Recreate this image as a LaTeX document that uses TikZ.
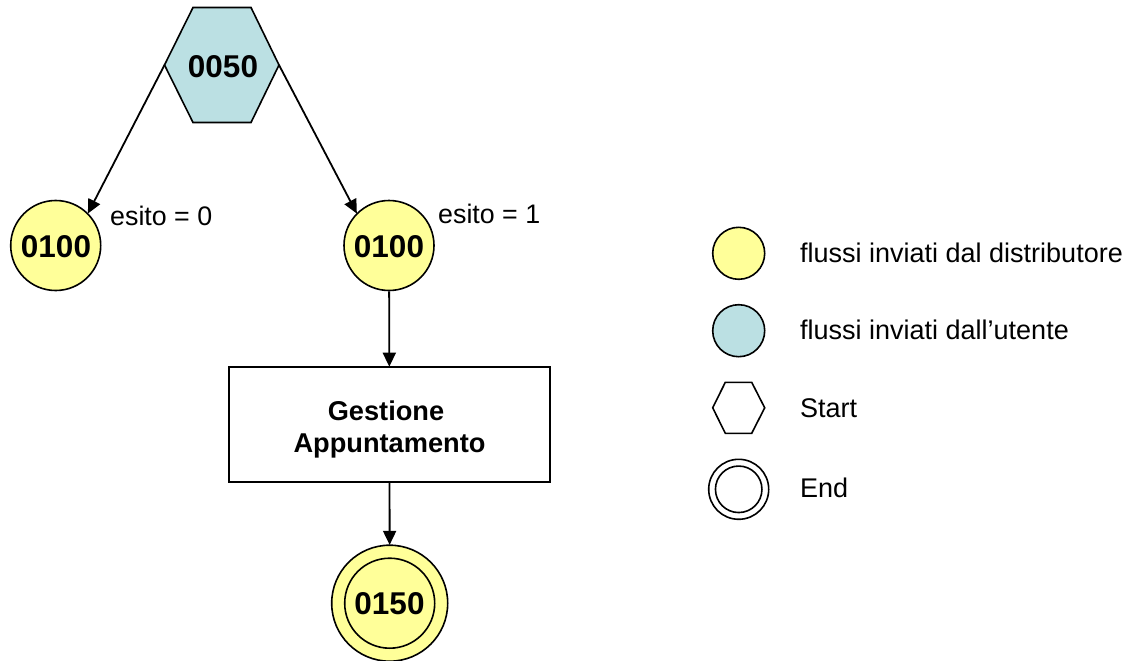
\documentclass[tikz,border=0pt]{standalone}
\usepackage{fontspec}
\setmainfont{Liberation Sans}
\usetikzlibrary{arrows.meta}
\definecolor{yel}{HTML}{FFFF99}
\definecolor{blu}{HTML}{BBE0E3}
\tikzset{
  outl/.style={draw=black,line width=1.6pt},
  yc/.style={outl,circle,fill=yel,inner sep=0pt,minimum size=90pt},
  num/.style={inner sep=0pt,font=\fontsize{31.5}{31.5}\selectfont\bfseries},
  legc/.style={outl,circle,inner sep=0pt,minimum size=52pt},
  conn/.style={line width=1.8pt,-{Triangle[length=14pt,width=13pt]},shorten >=-0.5pt},
  lab/.style={inner sep=0pt,anchor=base west,font=\fontsize{26.8}{26.8}\selectfont},
  leg/.style={inner sep=0pt,anchor=base west,font=\fontsize{27}{27}\selectfont},
}
\begin{document}
\begin{tikzpicture}[x=1pt,y=-1pt]
\useasboundingbox (0,0) rectangle (1127,661);
% start hexagon
\coordinate (hl) at (164.5,65);
\coordinate (hr) at (279,65);
\draw[outl,fill=blu] (hl) -- (193,7.5) -- (251,7.5) -- (hr) -- (251,122.5) -- (193,122.5) -- cycle;
\node[num] (s) at (223,66.5) {0050};
% circles
\node[yc] (a) at (55.7,245.5) {};
\node[yc] (b) at (389,245.5) {};
\node[num] (at) at (56,247) {0100};
\node[num] (bt) at (389,247) {0100};
\node[outl,fill=white,minimum width=321pt,minimum height=115pt,inner sep=0pt] (g) at (389.5,424.5) {};
\node[inner sep=0pt,align=center,font=\fontsize{27.2}{32}\selectfont\bfseries] (gt) at (389.5,429) {Gestione\hspace*{7pt}\\Appuntamento};
\node[outl,circle,fill=yel,inner sep=0pt,minimum size=116pt] (eo) at (389.7,603.2) {};
\node[yc] (e) at (389.7,603.2) {};
\node[num] (et) at (389.5,604) {0150};
% connectors
\draw[conn] (hl) -- (a.45);
\draw[conn] (hr) -- (b.135);
\draw[conn] (b) -- (g);
\draw[conn] (g) -- (eo);
% labels
\node[lab] (l0) at (110,225) {esito = 0};
\node[lab] (l1) at (438,223) {esito = 1};
% legend
\node[legc,fill=yel] (k1) at (738.7,253.3) {};
\node[legc,fill=blu] (k2) at (738.7,330.7) {};
\draw[outl] (712.7,407.8) -- (725.3,382.3) -- (751.7,382.3) -- (764.7,407.8) -- (751.7,433.3) -- (725.3,433.3) -- cycle;
\node[outl,circle,inner sep=0pt,minimum size=60pt] (k4) at (738.7,489.3) {};
\node[outl,circle,inner sep=0pt,minimum size=46.5pt] (k5) at (738.7,489.3) {};
\node[leg] (t1) at (800,262) {flussi inviati dal distributore};
\node[leg] (t2) at (800,339) {flussi inviati dall’utente};
\node[leg] (t3) at (800,417) {Start};
\node[leg] (t4) at (800,497) {End};
\end{tikzpicture}
\end{document}
